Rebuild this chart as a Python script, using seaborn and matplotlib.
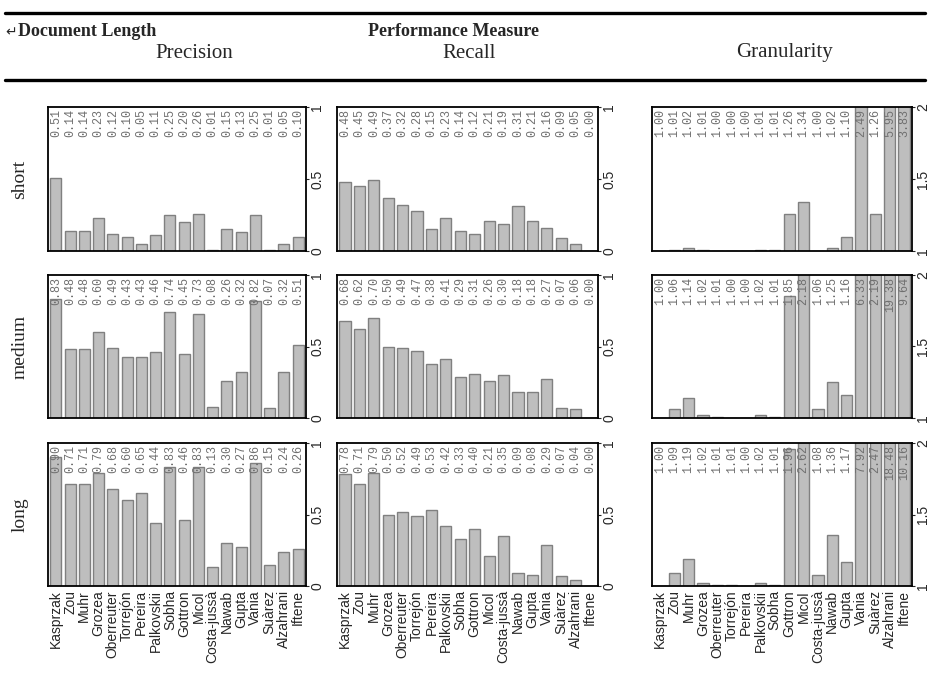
import numpy as np
import pandas as pd
import matplotlib
matplotlib.use("Agg")
import matplotlib.pyplot as plt
import matplotlib.ticker as mticker
import matplotlib.transforms as mtransforms
from matplotlib.lines import Line2D
import seaborn as sns

# DATA
authors = ["Kasprzak", "Zou", "Muhr", "Grozea", "Oberreuter", "Torrejón", "Pereira",
           "Palkovskii", "Sobha", "Gottron", "Micol", "Costa-jussà", "Nawab", "Gupta",
           "Vania", "Suàrez", "Alzahrani", "Iftene"]
lengths = ["short", "medium", "long"]
measures = ["Precision", "Recall", "Granularity"]

precision_short = [0.51, 0.14, 0.14, 0.23, 0.12, 0.10, 0.05, 0.11, 0.25, 0.20, 0.26, 0.01, 0.15, 0.13, 0.25, 0.01, 0.05, 0.10]
precision_medium = [0.83, 0.48, 0.48, 0.60, 0.49, 0.43, 0.43, 0.46, 0.74, 0.45, 0.73, 0.08, 0.26, 0.32, 0.82, 0.07, 0.32, 0.51]
precision_long = [0.90, 0.71, 0.71, 0.79, 0.68, 0.60, 0.65, 0.44, 0.83, 0.46, 0.83, 0.13, 0.30, 0.27, 0.86, 0.15, 0.24, 0.26]

recall_short = [0.48, 0.45, 0.49, 0.37, 0.32, 0.28, 0.15, 0.23, 0.14, 0.12, 0.21, 0.19, 0.31, 0.21, 0.16, 0.09, 0.05, 0.00]
recall_medium = [0.68, 0.62, 0.70, 0.50, 0.49, 0.47, 0.38, 0.41, 0.29, 0.31, 0.26, 0.30, 0.18, 0.18, 0.27, 0.07, 0.06, 0.00]
recall_long = [0.78, 0.71, 0.79, 0.50, 0.52, 0.49, 0.53, 0.42, 0.33, 0.40, 0.21, 0.35, 0.09, 0.08, 0.29, 0.07, 0.04, 0.00]

gran_short = [1.00, 1.01, 1.02, 1.01, 1.00, 1.00, 1.00, 1.01, 1.01, 1.26, 1.34, 1.00, 1.02, 1.10, 2.49, 1.26, 5.95, 3.83]
gran_medium = [1.00, 1.06, 1.14, 1.02, 1.01, 1.00, 1.00, 1.02, 1.01, 1.85, 2.18, 1.06, 1.25, 1.16, 6.33, 2.19, 19.38, 9.64]
gran_long = [1.00, 1.09, 1.19, 1.02, 1.01, 1.01, 1.00, 1.02, 1.01, 1.96, 2.62, 1.08, 1.36, 1.17, 7.92, 2.47, 18.48, 10.16]

values = {
    ("short", "Precision"): precision_short, ("medium", "Precision"): precision_medium, ("long", "Precision"): precision_long,
    ("short", "Recall"): recall_short, ("medium", "Recall"): recall_medium, ("long", "Recall"): recall_long,
    ("short", "Granularity"): gran_short, ("medium", "Granularity"): gran_medium, ("long", "Granularity"): gran_long,
}
y_ranges = {"Precision": (0, 1), "Recall": (0, 1), "Granularity": (1, 2)}
y_ticks = {"Precision": [0, 0.5, 1], "Recall": [0, 0.5, 1], "Granularity": [1, 1.5, 2]}

sns.set_style("white")
plt.rcParams["font.family"] = ["Liberation Sans", "DejaVu Sans"]

W, H = 930, 688
fig = plt.figure(figsize=(W / 100, H / 100), dpi=100)

# axes boxes in pixels (left, right) and (top, bottom)
col_px = {"Precision": (48, 306), "Recall": (337, 598), "Granularity": (652, 912)}
row_px = {"short": (107, 251), "medium": (275, 418), "long": (443, 586)}

for length in lengths:
    top, bot = row_px[length]
    for measure in measures:
        left, right = col_px[measure]
        ax = fig.add_axes([left / W, 1 - bot / H, (right - left) / W, (bot - top) / H])
        df = pd.DataFrame({"author": authors, "value": values[(length, measure)]})
        sns.barplot(data=df, x="author", y="value", ax=ax, color="#bebebe",
                    edgecolor="#808080", linewidth=1.0, width=0.78, saturation=1)
        ax.set_ylim(*y_ranges[measure])
        ax.set_xlim(-0.55, len(authors) - 0.45)
        ax.set_xlabel("")
        ax.set_ylabel("")
        for sp in ax.spines.values():
            sp.set_visible(True)
            sp.set_color("black")
            sp.set_linewidth(1.3)
        ax.yaxis.tick_right()
        ax.set_yticks(y_ticks[measure])
        ax.yaxis.set_major_formatter(mticker.FormatStrFormatter("%g"))
        ax.tick_params(axis="y", right=True, direction="out", length=2.5, width=0.8,
                       labelsize=10, pad=0.5)
        for lab in ax.get_yticklabels():
            lab.set_rotation(90)
            lab.set_va("center")
        if length == "long":
            ax.tick_params(axis="x", length=0, labelsize=10, pad=3)
            for lab in ax.get_xticklabels():
                lab.set_rotation(90)
                lab.set_ha("center")
                lab.set_va("top")
        else:
            ax.set_xticklabels([])
            ax.tick_params(axis="x", length=0)
        trans = mtransforms.blended_transform_factory(ax.transData, ax.transAxes)
        for i, v in enumerate(values[(length, measure)]):
            ax.text(i, 0.985, f"{v:.2f}", transform=trans, rotation=90, ha="center",
                    va="top", fontsize=8.5, color="#707070", family="Liberation Mono")

    fig.text(20 / W, 1 - (top + bot) / 2 / H, length, rotation=90, ha="center", va="center",
             family="Liberation Serif", fontsize=14)

# header
fig.add_artist(Line2D([5 / W, 925 / W], [1 - 13 / H, 1 - 13 / H], color="black", lw=2.4))
fig.add_artist(Line2D([5 / W, 925 / W], [1 - 80 / H, 1 - 80 / H], color="black", lw=2.4))
fig.text(5 / W, 1 - 32 / H, "\u21b5", ha="left", va="center", fontsize=10, family="DejaVu Sans")
fig.text(18 / W, 1 - 31 / H, "Document Length", ha="left", va="center",
         family="Liberation Serif", fontweight="bold", fontsize=13)
fig.text(368 / W, 1 - 31 / H, "Performance Measure", ha="left", va="center",
         family="Liberation Serif", fontweight="bold", fontsize=13)
for measure, cx in zip(measures, [194, 469, 784]):
    fig.text(cx / W, 1 - 53 / H, measure, ha="center", va="center",
             family="Liberation Serif", fontsize=15)

fig.savefig("out.png", dpi=100)
